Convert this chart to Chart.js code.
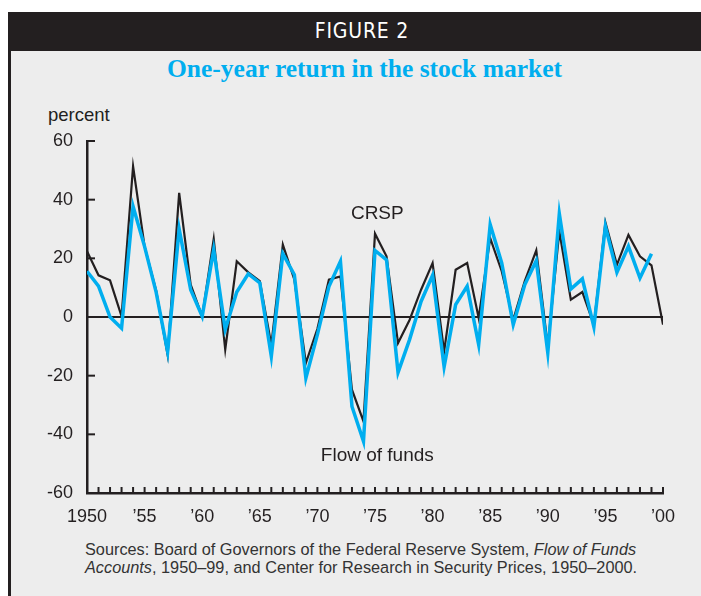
<!DOCTYPE html>
<html>
<head>
<meta charset="utf-8">
<script src="https://cdn.jsdelivr.net/npm/chart.js@4.4.1/dist/chart.umd.min.js"></script>
<style>
  html, body { margin: 0; padding: 0; background: #fff; }
  #page { position: relative; width: 701px; height: 596px; overflow: hidden; font-family: 'Liberation Sans', Arial, sans-serif; color: #231f20; }
  #panel { position: absolute; left: 8px; top: 12px; width: 693px; height: 584px; background: #ededed; border-left: 3px solid #231f20; box-sizing: border-box; }
  #header { position: absolute; left: 8px; top: 12px; width: 693px; height: 39px; padding-left: 15px; box-sizing: border-box; background: #231f20; color: #fff; text-align: center; font-family: 'Liberation Sans Narrow', 'DejaVu Sans Condensed', sans-serif; font-size: 21px; line-height: 39px; letter-spacing: 0.8px; }
  #title { position: absolute; left: 8px; width: 693px; padding-left: 20px; box-sizing: border-box; top: 54px; text-align: center; font-family: 'Liberation Serif', 'Times New Roman', serif; font-weight: bold; font-size: 25.5px; color: #00aeef; }
  #unit { position: absolute; left: 48px; top: 104px; font-size: 18.5px; }
  #sources { position: absolute; left: 85px; top: 540px; font-size: 16.3px; line-height: 18px; color: #333; }
  canvas { position: absolute; left: 0; top: 0; }
</style>
</head>
<body>
<div id="page">
  <div id="panel"></div>
  <div id="header">FIGURE 2</div>
  <div id="title">One-year return in the stock market</div>
  <div id="unit">percent</div>
  <div id="sources">Sources: Board of Governors of the Federal Reserve System, <i>Flow of Funds</i><br><i>Accounts</i>, 1950–99, and Center for Research in Security Prices, 1950–2000.</div>
  <canvas id="chart" width="701" height="596"></canvas>
</div>
<script>
// yearly returns, percent
const years = [];
for (let y = 1950; y <= 2000; y++) years.push(y);

const crsp = [22.4, 14.2, 12.5, 0.2, 51.4, 24, 9, -12.9, 42.3, 11,
  0.2, 26.6, -11.1, 19, 15.2, 12.2, -9.5, 24.7, 12.7, -15.7,
  -4, 12.7, 13.8, -24.8, -35.6, 28.4, 20.7, -8.9, -1, 9.3,
  18.4, -11.7, 16.1, 18.4, -0.3, 26.9, 15.6, -1, 12.2, 22.7,
  -10, 29.2, 5.9, 8.5, -2.6, 32.3, 17.8, 28, 20.7, 17.6,
  -2.6];

const flowOfFunds = [15.6, 10.5, 0, -3.8, 37.7, 24, 8.5, -11.8, 30, 9.3,
  0.2, 23, -4.3, 8.5, 14.7, 11.6, -13.4, 21.6, 14.4, -20.8,
  -6, 10.4, 19, -30.5, -42.4, 22.7, 19.5, -18.9, -7.7, 5.3,
  14.2, -17, 4.2, 10.5, -9.4, 31.5, 18.4, -2.6, 11, 19.2,
  -12.2, 35.2, 9.5, 13, -3.4, 30.9, 15.2, 24.1, 13.3, 21.6];

const tickYears = [1950, 1955, 1960, 1965, 1970, 1975, 1980, 1985, 1990, 1995, 2000];
const tickLabels = ['1950', '’55', '’60', '’65', '’70', '’75', '’80', '’85', '’90', '’95', '’00'];

const seriesLabels = [
  { text: 'CRSP', x: 1975.2, y: 35.3 },
  { text: 'Flow of funds', x: 1975.2, y: -47.3 }
];

const ink = '#231f20';
const tickFont = "'Liberation Sans', Arial, sans-serif";

// ticks pointing into the plot, plus the line labels
const decorPlugin = {
  id: 'decor',
  afterDraw(chart) {
    const { ctx, scales: { x, y } } = chart;
    ctx.save();
    ctx.strokeStyle = ink;
    ctx.lineWidth = 2;
    y.ticks.forEach(t => {
      const py = y.getPixelForValue(t.value);
      ctx.beginPath();
      ctx.moveTo(x.left, py);
      ctx.lineTo(x.left + 8, py);
      ctx.stroke();
    });
    for (let yr = 1951; yr <= 2000; yr++) {
      const px = x.getPixelForValue(yr);
      ctx.beginPath();
      ctx.moveTo(px, y.bottom);
      ctx.lineTo(px, y.bottom - 6);
      ctx.stroke();
    }
    ctx.fillStyle = ink;
    ctx.font = '19px ' + tickFont;
    ctx.textAlign = 'center';
    ctx.textBaseline = 'middle';
    seriesLabels.forEach(l => {
      ctx.fillText(l.text, x.getPixelForValue(l.x), y.getPixelForValue(l.y));
    });
    ctx.restore();
  }
};

new Chart(document.getElementById('chart'), {
  type: 'line',
  data: {
    datasets: [
      {
        label: 'Flow of funds',
        data: flowOfFunds.map((v, i) => ({ x: years[i], y: v })),
        borderColor: '#00aeef',
        borderWidth: 3.5,
        pointRadius: 0,
        tension: 0,
        order: 0
      },
      {
        label: 'CRSP',
        data: crsp.map((v, i) => ({ x: years[i], y: v })),
        borderColor: ink,
        borderWidth: 2.2,
        pointRadius: 0,
        tension: 0,
        order: 1
      }
    ]
  },
  options: {
    responsive: false,
    animation: false,
    devicePixelRatio: 1,
    layout: { padding: { top: 141, right: 38, bottom: 60, left: 0 } },
    plugins: { legend: { display: false }, tooltip: { enabled: false } },
    scales: {
      x: {
        type: 'linear',
        min: 1950,
        max: 2000,
        afterFit: s => { s.height = 43; },
        afterBuildTicks: s => { s.ticks = tickYears.map(v => ({ value: v })); },
        ticks: {
          autoSkip: false,
          maxRotation: 0,
          padding: 13,
          color: ink,
          font: { family: tickFont, size: 18 },
          callback: v => tickLabels[tickYears.indexOf(v)]
        },
        grid: { color: 'transparent', drawTicks: false },
        border: { display: true, color: ink, width: 2.5 }
      },
      y: {
        min: -60,
        max: 60,
        afterFit: s => { s.width = 87; },
        ticks: {
          stepSize: 20,
          padding: 14,
          color: ink,
          font: { family: tickFont, size: 18 }
        },
        grid: {
          drawTicks: false,
          color: c => (c.tick && c.tick.value === 0 ? ink : 'transparent'),
          lineWidth: 2
        },
        border: { display: true, color: ink, width: 2.5 }
      }
    }
  },
  plugins: [decorPlugin]
});
</script>
</body>
</html>
